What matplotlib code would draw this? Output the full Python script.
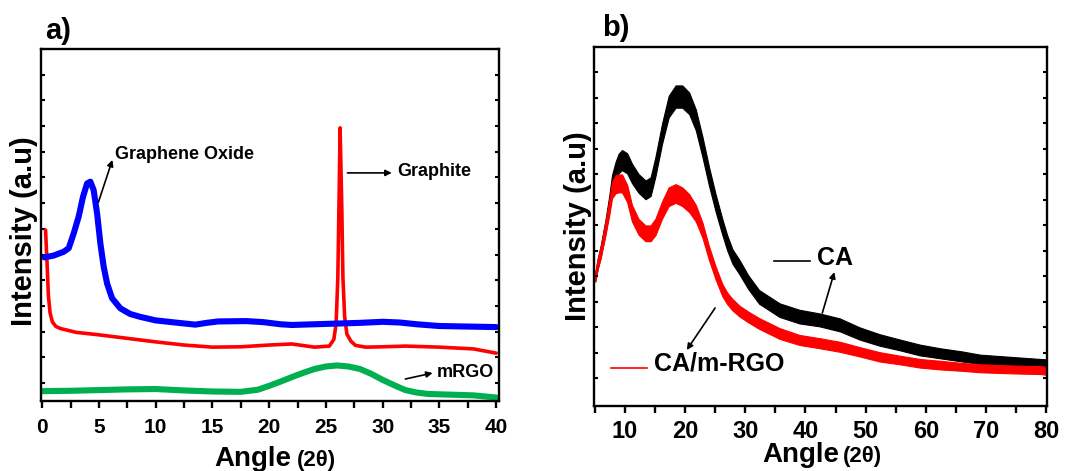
"""XRD patterns: a) graphite, graphene oxide and mRGO; b) CA and CA/m-RGO films."""
import matplotlib.pyplot as plt
from matplotlib.ticker import MultipleLocator, FixedLocator
import numpy as np

plt.rcParams['font.family'] = ['Liberation Sans', 'DejaVu Sans']
plt.rcParams['font.weight'] = 'bold'

# ---- panel a: intensities in arbitrary units (0-100 across the plot height)
go_angle = [0.2, 1.0, 1.9, 2.34, 2.78, 3.22, 3.6, 3.96, 4.25, 4.54, 4.84, 5.13, 5.42,
            5.72, 6.16, 6.9, 7.77, 8.65, 10, 12, 13.5, 14.5, 15.5, 18, 19.5, 21, 22,
            25, 28, 30, 31.5, 33, 35, 40]
go_int = [40.8, 41.3, 42.4, 43.4, 47.6, 52.4, 58.0, 61.8, 62.3, 59.9, 53.3, 44.8, 38.2,
          33.4, 29.2, 26.3, 24.7, 23.9, 22.9, 22.2, 21.7, 22.2, 22.6, 22.7, 22.4, 21.8,
          21.6, 21.9, 22.2, 22.5, 22.3, 21.8, 21.3, 21.0]

gr_angle = [0.3, 0.45, 0.55, 0.7, 0.9, 1.2, 1.6, 3, 5, 7.5, 10, 12.5, 15, 17.5, 20, 22,
            24, 25.3, 25.7, 25.9, 26.05, 26.15, 26.25, 26.4, 26.5, 26.65, 26.85, 27.2,
            27.6, 28.5, 30, 32, 35, 38, 40]
gr_int = [48.6, 38.0, 30.0, 25.0, 22.5, 21.2, 20.6, 19.5, 18.8, 17.8, 16.8, 15.9, 15.3,
          15.4, 15.9, 16.2, 15.3, 15.6, 17.5, 22.0, 35.0, 55.0, 77.6, 55.0, 35.0, 24.0,
          19.0, 17.0, 15.8, 15.3, 15.4, 15.6, 15.3, 14.8, 13.6]

rgo_angle = [0, 2.5, 5, 7.5, 10, 12.5, 15, 17.5, 19, 20, 21, 22, 23, 24, 25, 26, 27,
             28, 29, 30, 31, 32, 33, 34, 36, 38, 40]
rgo_int = [2.8, 2.9, 3.1, 3.3, 3.4, 3.0, 2.7, 2.6, 3.2, 4.3, 5.5, 6.8, 8.0, 9.1, 9.8,
           10.1, 9.8, 9.1, 7.7, 6.0, 4.5, 3.1, 2.4, 2.0, 1.8, 1.6, 1.0]

# ---- panel b: noisy patterns stored as mid-line plus half-width of the noise band
film_angle = [5.1, 5.5, 6, 6.8, 7.4, 7.9, 8.5, 9.0, 9.55, 10.4, 11.2, 12.3, 13.45, 14.3,
              15.1, 16.2, 17.3, 18.45, 19.55, 20.7, 21.8, 22.9, 24.0, 25.1, 26.2, 27.0,
              27.9, 29.0, 30.5, 32.3, 35.7, 39, 42.3, 45.7, 49, 52.3, 55.7, 59, 62.3,
              66, 69, 74, 79, 80]
ca_int = [35.9, 39.5, 43.0, 49.9, 56.0, 62.0, 65.5, 67.6, 68.5, 67.6, 64.8, 62.0, 60.2,
          61.1, 66.7, 75.9, 83.4, 86.2, 86.2, 84.3, 79.7, 72.2, 63.9, 56.5, 49.9, 45.5,
          41.6, 38.8, 34.5, 30.4, 26.7, 24.9, 24.0, 22.6, 20.2, 18.4, 17.0, 15.6, 14.7,
          13.8, 13.0, 12.4, 11.9, 11.8]
ca_noise = [1.2, 1.4, 1.6, 1.9, 2.2, 2.4, 2.6, 2.7, 2.8, 2.8, 2.7, 2.6, 2.6, 2.6, 2.7,
            2.8, 3.0, 3.1, 3.1, 3.0, 2.9, 2.8, 2.6, 2.4, 2.2, 2.1, 2.0, 2.0, 1.9, 1.9,
            1.9, 1.9, 1.8, 1.8, 1.7, 1.6, 1.5, 1.5, 1.4, 1.4, 1.3, 1.3, 1.2, 1.2]
carg_int = [35.9, 39.5, 42.8, 49.5, 55.0, 60.2, 61.8, 62.0, 62.0, 59.2, 53.7, 49.9, 48.1,
            48.1, 49.9, 54.6, 58.3, 59.2, 58.3, 56.5, 53.7, 49.0, 42.5, 37.0, 32.3, 30.0,
            28.2, 26.5, 24.8, 23.0, 20.2, 18.4, 17.5, 16.5, 15.1, 13.7, 12.8, 11.9, 11.4,
            10.9, 10.5, 10.2, 10.0, 9.8]
carg_noise = [1.2, 1.4, 1.6, 1.9, 2.1, 2.3, 2.5, 2.5, 2.5, 2.4, 2.3, 2.2, 2.2, 2.2, 2.3,
              2.4, 2.6, 2.6, 2.6, 2.5, 2.3, 2.1, 1.9, 1.8, 1.7, 1.6, 1.6, 1.5, 1.5, 1.5,
              1.5, 1.4, 1.4, 1.4, 1.3, 1.3, 1.2, 1.2, 1.2, 1.1, 1.1, 1.1, 1.1, 1.1]

W, H = 1086, 471
fig = plt.figure(figsize=(W / 100, H / 100), dpi=100)


def fpos(x, y):
    """pixel position -> figure fraction"""
    return x / W, 1 - y / H


ax_a = fig.add_axes([41 / W, 1 - 401 / H, (499 - 41) / W, (401 - 49) / H])
ax_b = fig.add_axes([594 / W, 1 - 406 / H, (1047 - 594) / W, (406 - 47) / H])


def style_axes(ax, major, minor, yticks, label_size, pad):
    for sp in ax.spines.values():
        sp.set_linewidth(1.7)
    ax.xaxis.set_major_locator(MultipleLocator(major))
    ax.xaxis.set_minor_locator(MultipleLocator(minor))
    ax.yaxis.set_major_locator(FixedLocator(yticks))
    ax.tick_params(axis='x', which='both', direction='out', length=5, width=1.7,
                   top=False, labelsize=label_size, pad=pad)
    ax.tick_params(axis='y', which='major', direction='in', length=3, width=1.5,
                   left=True, right=True, labelleft=False)
    for lab in ax.get_xticklabels():
        lab.set_fontweight('bold')


arrow = dict(arrowstyle='-|>', color='black', lw=1.2, mutation_scale=9,
             shrinkA=0, shrinkB=0)

# ---- a)
ax_a.plot(rgo_angle, rgo_int, color='#00B050', lw=4.4, solid_capstyle='round',
          solid_joinstyle='round')
ax_a.plot(gr_angle, gr_int, color='#FF0000', lw=2.6, solid_capstyle='round',
          solid_joinstyle='round')
ax_a.plot(go_angle, go_int, color='#0000FF', lw=4.4, solid_capstyle='round',
          solid_joinstyle='round')
ax_a.set_xlim(-0.1, 40.25)
ax_a.set_ylim(0, 100)
style_axes(ax_a, 5, 2.5, np.arange(5.1, 100, 7.3), 15, 7)

ax_a.text(6.45, 69.9, 'Graphene Oxide', fontsize=13, fontweight='bold', va='center')
ax_a.annotate('', xy=(6.19, 68.5), xytext=(4.96, 56.5), arrowprops=arrow)
ax_a.text(31.3, 65.1, 'Graphite', fontsize=13, fontweight='bold', va='center')
ax_a.annotate('', xy=(30.8, 64.8), xytext=(26.9, 64.8), arrowprops=arrow)
ax_a.text(34.8, 8.2, 'mRGO', fontsize=13, fontweight='bold', va='center')
ax_a.annotate('', xy=(34.4, 7.95), xytext=(32.0, 6.25), arrowprops=arrow)

# ---- b)
a = np.array(film_angle)
ca = np.array(ca_int)
ca_n = np.array(ca_noise)
rg = np.array(carg_int)
rg_n = np.array(carg_noise)
ax_b.fill_between(a, ca - ca_n, ca + ca_n, color='black', lw=0.8)
ax_b.fill_between(a, rg - rg_n, rg + rg_n, color='#FF0000', lw=0.8)
ax_b.set_xlim(4.9, 80.1)
ax_b.set_ylim(0, 100)
style_axes(ax_b, 10, 5, np.arange(7.8, 100, 7.1), 17, 5)

ax_b.plot([34.8, 40.7], [40.4, 40.4], color='black', lw=1.2)
ax_b.text(42.0, 41.2, 'CA', fontsize=18, fontweight='bold', va='center')
ax_b.annotate('', xy=(44.8, 37.3), xytext=(42.8, 25.9), arrowprops=arrow)
ax_b.plot([7.7, 13.7], [10.6, 10.6], color='#FF0000', lw=1.2)
ax_b.text(14.8, 11.7, 'CA/m-RGO', fontsize=18, fontweight='bold', va='center')
ax_b.annotate('', xy=(20.3, 15.6), xytext=(25.0, 27.3), arrowprops=arrow)

# ---- panel letters and axis titles
fig.text(*fpos(45, 17), 'a)', fontsize=21, fontweight='bold', va='top')
fig.text(*fpos(602, 14), 'b)', fontsize=21, fontweight='bold', va='top')

for x_angle, x_theta, base in [(291, 297, 466), (839, 843, 462)]:
    fig.text(*fpos(x_angle, base), 'Angle', fontsize=20, fontweight='bold',
             ha='right', va='baseline')
    fig.text(*fpos(x_theta, base), '(2θ)', fontsize=16, fontweight='bold',
             ha='left', va='baseline')

fig.text(*fpos(24, 231), 'Intensity (a.u)', fontsize=21, fontweight='bold',
         rotation=90, ha='center', va='center')
fig.text(*fpos(578, 226), 'Intensity (a.u)', fontsize=21, fontweight='bold',
         rotation=90, ha='center', va='center')

fig.savefig('out.png', dpi=100)
